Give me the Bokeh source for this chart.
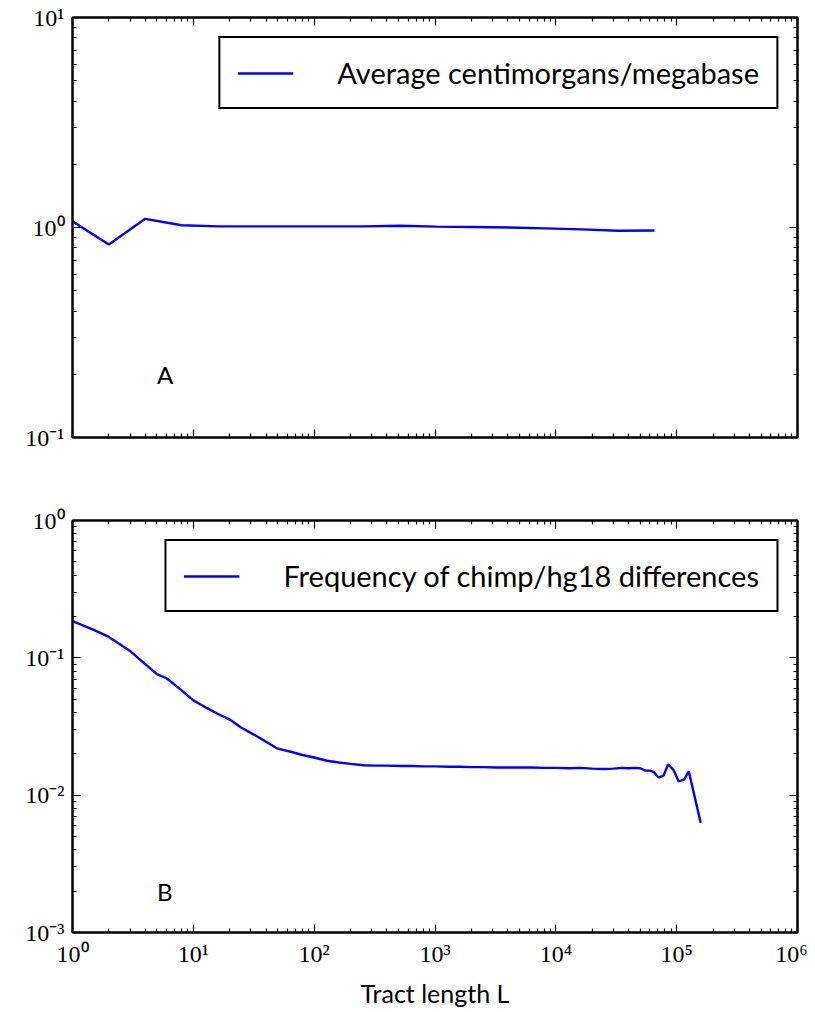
from bokeh.plotting import figure
from bokeh.models import (LogAxis, CustomJSTickFormatter, Legend, LegendItem, Label,
                          FixedTicker, Range1d)
from bokeh.layouts import column
from bokeh.embed import file_html
from bokeh.resources import INLINE

# ---------------- data ----------------
top_x = [1, 2, 4, 8, 16, 32, 64, 128, 256, 512, 1024, 2048, 4096, 8192, 16384, 32768, 65536]
top_y = [1.07, 0.83, 1.10, 1.025, 1.012, 1.012, 1.012, 1.012, 1.012, 1.02, 1.01, 1.005,
         1.0, 0.99, 0.98, 0.965, 0.967]
top_label = "Average centimorgans/megabase"

bot_x = [1, 1.5, 2, 3, 4, 5, 6, 8, 10, 13, 16, 20, 25, 32, 40, 50, 64, 80, 100, 128, 160,
         200, 256, 320, 400, 512, 640, 800, 1000, 1300, 1600, 2000, 2500, 3200, 4000, 5000,
         6400, 8000, 10000, 13000, 16000, 20000, 25000, 30000, 35000, 40000, 45000, 50000,
         55000, 60000, 65000, 71000, 78000, 85000, 94000, 104000, 115000, 126000, 158000]
bot_y = [0.185, 0.16, 0.142, 0.112, 0.09, 0.076, 0.071, 0.058, 0.049, 0.043, 0.039, 0.0355,
         0.031, 0.0275, 0.0245, 0.0218, 0.0207, 0.0196, 0.0188, 0.0178, 0.0173, 0.0169,
         0.0165, 0.0164, 0.0164, 0.0163, 0.0163, 0.0162, 0.0162, 0.0161, 0.0161, 0.0160,
         0.0160, 0.0159, 0.0159, 0.0159, 0.0159, 0.0158, 0.0158, 0.0157, 0.0158, 0.0156,
         0.0155, 0.0156, 0.0158, 0.0157, 0.0158, 0.0157, 0.0151, 0.0151, 0.0147, 0.0134,
         0.0139, 0.0168, 0.0153, 0.0126, 0.0130, 0.0149, 0.0063]
bot_label = "Frequency of chimp/hg18 differences"

x_label = "Tract length L"
panel_labels = ["A", "B"]

# ---------------- styling helpers ----------------
SERIF = "Liberation Serif"
SANS = "Lato"

fmt = CustomJSTickFormatter(code="""
const e = Math.round(Math.log10(tick));
const m = {'-':'\u207B','0':'\u2070','1':'\u00B9','2':'\u00B2','3':'\u00B3','4':'\u2074',
           '5':'\u2075','6':'\u2076','7':'\u2077','8':'\u2078','9':'\u2079'};
return '10' + String(e).split('').map(c => m[c]).join('');
""")


def log_ticker(lo, hi):
    majors = [10.0 ** k for k in range(lo, hi + 1)]
    minors = [m * 10.0 ** k for k in range(lo, hi) for m in range(2, 10)]
    return FixedTicker(ticks=majors, minor_ticks=minors)


def style_axis(ax, show_labels):
    ax.axis_line_color = "black"
    ax.axis_line_width = 2
    ax.major_tick_in = 8
    ax.major_tick_out = 0
    ax.minor_tick_in = 4
    ax.minor_tick_out = 0
    ax.major_tick_line_color = "black"
    ax.minor_tick_line_color = "black"
    ax.major_tick_line_width = 1.2
    ax.minor_tick_line_width = 1.2
    ax.formatter = fmt
    if show_labels:
        ax.major_label_text_font = SERIF
        ax.major_label_text_font_size = "24px"
        ax.major_label_text_color = "black"
        ax.major_label_standoff = 8
    else:
        ax.major_label_text_font_size = "0px"
        ax.major_label_standoff = 0


def make_panel(xs, ys, label, ylo, yhi, height, bt, bb, show_x_labels, panel_text, ptext_y):
    p = figure(width=807, height=height, x_axis_type="log", y_axis_type="log",
               x_range=Range1d(1, 1e6), y_range=Range1d(10.0 ** ylo, 10.0 ** yhi),
               output_backend="svg", toolbar_location=None,
               min_border_left=72, min_border_right=10, min_border_top=bt, min_border_bottom=bb)
    p.xgrid.visible = False
    p.ygrid.visible = False
    p.outline_line_color = "black"
    p.outline_line_width = 2
    p.background_fill_color = "white"
    p.border_fill_color = "white"

    bottom_ax = p.below[0]
    left_ax = p.left[0]
    bottom_ax.ticker = log_ticker(0, 6)
    left_ax.ticker = log_ticker(ylo, yhi)
    style_axis(bottom_ax, show_x_labels)
    style_axis(left_ax, True)

    right = LogAxis(ticker=log_ticker(ylo, yhi))
    style_axis(right, False)
    p.add_layout(right, "right")
    top = LogAxis(ticker=log_ticker(0, 6))
    style_axis(top, False)
    p.add_layout(top, "above")

    r = p.line(xs, ys, line_color="#0000ff", line_width=2.4)

    legend = Legend(items=[LegendItem(label=label, renderers=[r])], location="top_right")
    legend.margin = 19
    legend.padding = 17
    legend.glyph_width = 56
    legend.label_standoff = 44
    legend.label_text_font = SANS
    legend.label_text_font_size = "29px"
    legend.label_text_color = "black"
    legend.label_height = 28
    legend.border_line_color = "black"
    legend.border_line_alpha = 1.0
    legend.border_line_width = 2
    legend.background_fill_color = "white"
    legend.background_fill_alpha = 1.0
    p.add_layout(legend)

    p.add_layout(Label(x=5, y=ptext_y, text=panel_text, text_font=SANS,
                       text_font_size="24px", text_align="left",
                       text_baseline="alphabetic", text_color="black"))
    return p, bottom_ax


p1, _ = make_panel(top_x, top_y, top_label, -1, 1, 488, 17, 51, False, panel_labels[0], 0.2)
p2, ax2 = make_panel(bot_x, bot_y, bot_label, -3, 0, 522, 32, 70, True, panel_labels[1], 0.002)
ax2.axis_label = x_label
ax2.axis_label_text_font = SANS
ax2.axis_label_text_font_size = "25px"
ax2.axis_label_text_font_style = "normal"
ax2.axis_label_text_color = "black"
ax2.axis_label_standoff = 8

layout = column(p1, p2, spacing=0)
open("out.html", "w").write(file_html(layout, INLINE))
